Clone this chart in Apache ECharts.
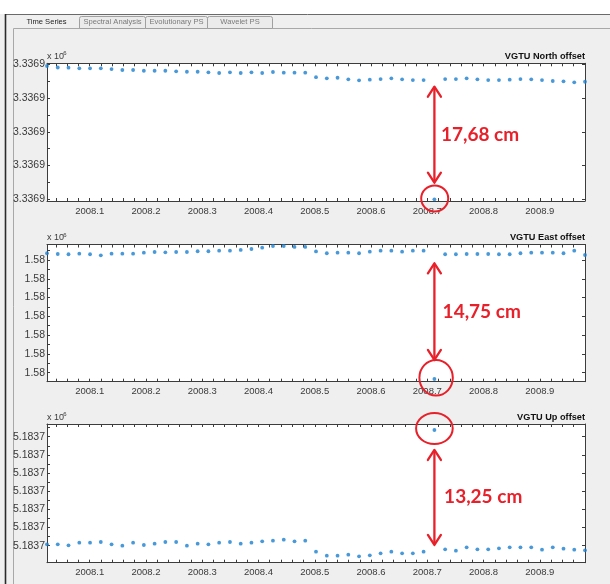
<!DOCTYPE html>
<html><head><meta charset="utf-8">
<script src="https://cdn.jsdelivr.net/npm/echarts@6/dist/echarts.min.js"></script>
<style>html,body{margin:0;padding:0;background:#fff}#c{width:610px;height:584px}</style>
</head><body><div id="c"></div>
<script>
// Epochs (decimal years), weekly solutions
const years = [2008.0242,2008.0433,2008.0624,2008.0816,2008.1007,2008.1198,2008.1389,2008.1581,2008.1772,2008.1963,
2008.2154,2008.2345,2008.2537,2008.2728,2008.2919,2008.3110,2008.3301,2008.3493,2008.3684,2008.3875,
2008.4066,2008.4257,2008.4449,2008.4640,2008.4831,2008.5022,2008.5214,2008.5405,2008.5596,2008.5787,
2008.5978,2008.6170,2008.6361,2008.6552,2008.6743,2008.6934,2008.7126,2008.7317,2008.7508,2008.7699,
2008.7890,2008.8082,2008.8273,2008.8464,2008.8655,2008.8847,2008.9038,2008.9229,2008.9420,2008.9611,2008.9802];

// North coordinate (m)
const northM = [3336900.1975,3336900.1953,3336900.1950,3336900.1941,3336900.1941,3336900.1941,3336900.1930,3336900.1916,3336900.1916,3336900.1905,
3336900.1905,3336900.1905,3336900.1896,3336900.1890,3336900.1890,3336900.1881,3336900.1871,3336900.1881,3336900.1871,3336900.1881,
3336900.1871,3336900.1886,3336900.1876,3336900.1876,3336900.1876,3336900.1810,3336900.1793,3336900.1801,3336900.1778,3336900.1763,
3336900.1772,3336900.1782,3336900.1793,3336900.1778,3336900.1767,3336900.1767,3336900.0000,3336900.1782,3336900.1782,3336900.1793,
3336900.1778,3336900.1767,3336900.1767,3336900.1772,3336900.1782,3336900.1778,3336900.1767,3336900.1753,3336900.1748,3336900.1733,3336900.1742];

// East coordinate (m)
const eastM = [1580000.1272,1580000.1264,1580000.1261,1580000.1267,1580000.1261,1580000.1250,1580000.1267,1580000.1267,1580000.1267,1580000.1278,
1580000.1285,1580000.1282,1580000.1285,1580000.1285,1580000.1293,1580000.1293,1580000.1299,1580000.1299,1580000.1307,1580000.1317,
1580000.1331,1580000.1349,1580000.1349,1580000.1339,1580000.1339,1580000.1291,1580000.1272,1580000.1278,1580000.1278,1580000.1272,
1580000.1289,1580000.1299,1580000.1299,1580000.1289,1580000.1299,1580000.1299,1579999.9933,1580000.1261,1580000.1261,1580000.1264,
1580000.1264,1580000.1264,1580000.1261,1580000.1261,1580000.1272,1580000.1278,1580000.1278,1580000.1278,1580000.1272,1580000.1299,1580000.1253];

// Up coordinate (m)
const upM = [5183700.0015,5183700.0015,5183700.0004,5183700.0033,5183700.0033,5183700.0041,5183700.0015,5183700.0000,5183700.0033,5183700.0008,
5183700.0022,5183700.0041,5183700.0041,5183700.0000,5183700.0022,5183700.0015,5183700.0033,5183700.0041,5183700.0022,5183700.0033,
5183700.0048,5183700.0055,5183700.0066,5183700.0048,5183700.0055,5183699.9934,5183699.9890,5183699.9890,5183699.9901,5183699.9883,
5183699.9894,5183699.9916,5183699.9934,5183699.9916,5183699.9916,5183699.9934,5183700.1274,5183699.9960,5183699.9945,5183699.9982,
5183699.9960,5183699.9960,5183699.9971,5183699.9982,5183699.9982,5183699.9982,5183699.9956,5183699.9982,5183699.9967,5183699.9956,5183699.9949];

const xLabelValues = [2008.1,2008.2,2008.3,2008.4,2008.5,2008.6,2008.7,2008.8,2008.9];
const northLabelValues = [3336900.00,3336900.05,3336900.10,3336900.15,3336900.20];
const eastLabelValues = [1580000.00,1580000.02,1580000.04,1580000.06,1580000.08,1580000.10,1580000.12];
const upLabelValues = [5183700.00,5183700.02,5183700.04,5183700.06,5183700.08,5183700.10,5183700.12];
const annotTexts = ['17,68 cm','14,75 cm','13,25 cm'];
const titles = ['VGTU North offset','VGTU East offset','VGTU Up offset'];
const outlierIndex = 36;

// tick positions (every 0.02 yr on x, half steps on y)
const xTickValues = [];
for (let k = 2; k <= 49; k++) xTickValues.push(+(2008 + k * 0.02).toFixed(2));
function withHalves(arr) {
  const out = [];
  for (let i = 0; i < arr.length; i++) {
    out.push(arr[i]);
    if (i < arr.length - 1) out.push((arr[i] + arr[i + 1]) / 2);
  }
  out.push(arr[arr.length - 1] + (arr[1] - arr[0]) / 2);
  return out;
}

const panels = [
  {data: northM, top: 63.3, height: 137.7, min: 3336899.9975, max: 3336900.2015, labels: northLabelValues, digits: 4},
  {data: eastM, top: 244.5, height: 137.2, min: 1579999.9904, max: 1580000.1365, labels: eastLabelValues, digits: 2},
  {data: upM, top: 424, height: 138.7, min: 5183699.9813, max: 5183700.1340, labels: upLabelValues, digits: 4}
];

const FONT = "'Liberation Sans', Arial, sans-serif";
const AX = '#3c3c3c';
const LBL = '#3a3a3a';
const xMin = years[0], xMax = years[years.length - 1];

const grid = [], xAxis = [], yAxis = [], series = [];
panels.forEach((p, i) => {
  grid.push({left: 47, right: 25, top: p.top, height: p.height, show: true, backgroundColor: '#fff', borderWidth: 0});
  const tickCommon = {show: true, inside: true, length: 3, lineStyle: {color: AX, width: 1}};
  xAxis.push({type: 'value', gridIndex: i, min: xMin, max: xMax, position: 'bottom',
    axisLine: {show: true, onZero: false, lineStyle: {color: AX, width: 1}},
    axisTick: Object.assign({customValues: xTickValues}, tickCommon),
    axisLabel: {customValues: xLabelValues, formatter: v => v.toFixed(1), fontSize: 9.5, color: LBL, fontFamily: FONT, margin: 5},
    splitLine: {show: false}});
  xAxis.push({type: 'value', gridIndex: i, min: xMin, max: xMax, position: 'top',
    axisLine: {show: true, onZero: false, lineStyle: {color: AX, width: 1}},
    axisTick: Object.assign({customValues: xTickValues}, tickCommon),
    axisLabel: {show: false}, splitLine: {show: false}});
  const yt = withHalves(p.labels).filter(v => v >= p.min && v <= p.max);
  yAxis.push({type: 'value', gridIndex: i, min: p.min, max: p.max, position: 'left',
    axisLine: {show: true, onZero: false, lineStyle: {color: AX, width: 1}},
    axisTick: Object.assign({customValues: yt}, tickCommon),
    axisLabel: {customValues: p.labels, formatter: v => (v / 1e6).toFixed(p.digits), fontSize: 10.5, color: LBL, fontFamily: FONT, margin: 2},
    splitLine: {show: false}});
  yAxis.push({type: 'value', gridIndex: i, min: p.min, max: p.max, position: 'right',
    axisLine: {show: true, onZero: false, lineStyle: {color: AX, width: 1}},
    axisTick: Object.assign({customValues: p.labels}, tickCommon),
    axisLabel: {show: false}, splitLine: {show: false}});
  series.push({type: 'scatter', xAxisIndex: i * 2, yAxisIndex: i * 2, symbol: 'circle', symbolSize: 3.8,
    itemStyle: {color: '#1a7fcf'}, data: years.map((t, k) => [t, p.data[k]]), silent: true, animation: false});
});

// static frame graphics (window / tabs / panel titles)
const frame = [
  {type: 'rect', shape: {x: 0, y: 0, width: 610, height: 14}, style: {fill: '#fff'}},
  {type: 'line', shape: {x1: 5, y1: 14.5, x2: 610, y2: 14.5}, style: {stroke: '#6a6a6a', lineWidth: 1}},
  {type: 'line', shape: {x1: 5.5, y1: 14, x2: 5.5, y2: 584}, style: {stroke: '#2a2a2a', lineWidth: 1.6}},
  {type: 'line', shape: {x1: 13.5, y1: 28.5, x2: 610, y2: 28.5}, style: {stroke: '#a8a8a8', lineWidth: 1}},
  {type: 'line', shape: {x1: 13.5, y1: 28.5, x2: 13.5, y2: 584}, style: {stroke: '#a8a8a8', lineWidth: 1}}
];
const tabs = [
  {label: 'Time Series', x0: 14, x1: 79, active: true},
  {label: 'Spectral Analysis', x0: 79, x1: 145},
  {label: 'Evolutionary PS', x0: 145, x1: 207},
  {label: 'Wavelet PS', x0: 207, x1: 272}
];
tabs.forEach(t => {
  if (!t.active) {
    frame.push({type: 'rect', shape: {x: t.x0 + 0.5, y: 16.5, width: t.x1 - t.x0, height: 12, r: [2, 2, 0, 0]},
      style: {fill: '#ebebeb', stroke: '#a0a0a0', lineWidth: 1}});
  }
  frame.push({type: 'text', x: (t.x0 + t.x1) / 2 + (t.active ? 0 : 0.5), y: 22,
    style: {text: t.label, fontSize: 7.6, fontFamily: FONT, fill: t.active ? '#222' : '#7a7a7a', align: 'center', verticalAlign: 'middle'}});
});
panels.forEach((p, i) => {
  frame.push({type: 'text', x: 585, y: p.top - 6.8,
    style: {text: titles[i], fontSize: 9.2, fontWeight: 'bold', fontFamily: FONT, fill: '#111', align: 'right', verticalAlign: 'middle'}});
  frame.push({type: 'text', x: 47, y: p.top - 6.5,
    style: {text: 'x 10', fontSize: 9, fontFamily: FONT, fill: LBL, align: 'left', verticalAlign: 'middle'}});
  frame.push({type: 'text', x: 63.3, y: p.top - 9.5,
    style: {text: '6', fontSize: 6, fontFamily: FONT, fill: LBL, align: 'left', verticalAlign: 'middle'}});
});

const chart = echarts.init(document.getElementById('c'), null, {renderer: 'canvas'});
chart.setOption({
  backgroundColor: '#efefef',
  animation: false,
  grid, xAxis, yAxis, series,
  graphic: {elements: frame}
});

// red annotations, anchored on the outlier of each panel
const RED = '#e8202a';
const annSpec = [
  {cx: 0.3, cy: -0.8, rx: 13.5, ry: 13, a1: -112.6, a2: -16.6, tx: 6.5, ty: -64},
  {cx: 1.7, cy: -1.2, rx: 16.7, ry: 17.8, a1: -115.7, a2: -19, tx: 8.2, ty: -67},
  {cx: 0, cy: -1.5, rx: 18.3, ry: 15.5, a1: 20, a2: 115, tx: 9.7, ty: 67}
];
const ann = [];
panels.forEach((p, i) => {
  const px = chart.convertToPixel({xAxisIndex: i * 2, yAxisIndex: i * 2}, [years[outlierIndex], p.data[outlierIndex]]);
  const s = annSpec[i];
  const x = px[0], y = px[1];
  const top = y + Math.min(s.a1, s.a2), bot = y + Math.max(s.a1, s.a2);
  ann.push({type: 'ellipse', z: 100, shape: {cx: x + s.cx, cy: y + s.cy, rx: s.rx, ry: s.ry},
    style: {fill: 'none', stroke: RED, lineWidth: 2}});
  ann.push({type: 'line', z: 100, shape: {x1: x, y1: top + 1, x2: x, y2: bot - 1}, style: {stroke: RED, lineWidth: 2.3}});
  ann.push({type: 'polyline', z: 100, shape: {points: [[x - 6.5, top + 10], [x, top], [x + 6.5, top + 10]]},
    style: {stroke: RED, lineWidth: 2.3, fill: 'none', lineCap: 'round', lineJoin: 'round'}});
  ann.push({type: 'polyline', z: 100, shape: {points: [[x - 6.5, bot - 10], [x, bot], [x + 6.5, bot - 10]]},
    style: {stroke: RED, lineWidth: 2.3, fill: 'none', lineCap: 'round', lineJoin: 'round'}});
  ann.push({type: 'text', z: 100, x: x + s.tx, y: y + s.ty,
    style: {text: annotTexts[i], fontSize: 19, fontWeight: 'bold', fontFamily: "Lato, 'Open Sans', sans-serif", fill: RED, align: 'left', verticalAlign: 'middle'}});
});
chart.setOption({graphic: {elements: frame.concat(ann)}}, {replaceMerge: ['graphic']});
</script></body></html>
